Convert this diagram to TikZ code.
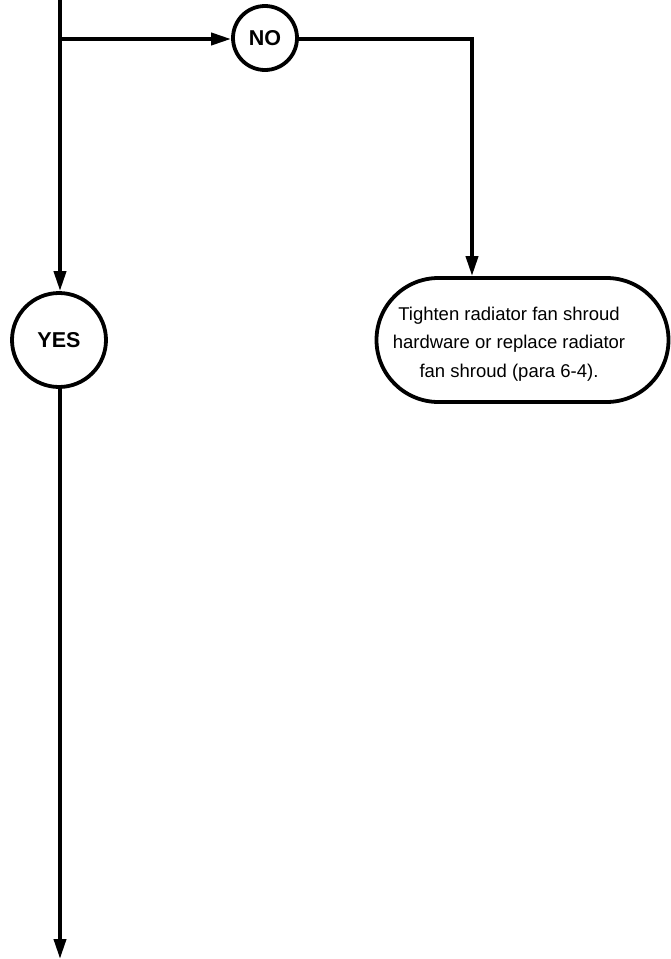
\documentclass[tikz,border=0pt]{standalone}
\usepackage{fontspec}
\setmainfont{Liberation Sans}
\usetikzlibrary{arrows.meta,shapes.misc}
\tikzset{
  conn/.style={line width=3.8pt,-{Triangle[length=20pt,width=12pt]}},
  plain/.style={line width=3.8pt},
  decision/.style={circle,draw,line width=3.8pt,inner sep=0pt,font=\fontsize{21.5}{24}\selectfont\bfseries},
  endbox/.style={rounded rectangle,draw,line width=3.8pt,minimum width=292pt,minimum height=124pt,inner sep=0pt},
  boxtext/.style={align=center,inner sep=0pt,font=\fontsize{18.5}{28.5}\selectfont}
}
\begin{document}
\begin{tikzpicture}[x=1pt,y=-1pt]
\useasboundingbox (0,0) rectangle (671,959);
\coordinate (top) at (60,0);
\coordinate (split) at (60,39);
\coordinate (bottom) at (60,959);
\coordinate (corner) at (472,39);
\node[decision,minimum size=64pt] (no) at (265,38) {NO};
\node[decision,minimum size=94pt] (yes) at (59,340) {YES};
\node[endbox] (fix) at (522.5,340) {};
\node[boxtext] (fixtext) at (509,344) {Tighten radiator fan shroud\\hardware or replace radiator\\fan shroud (para 6-4).};
\draw[plain] (top) -- (split);
\draw[conn] (split) -- (yes.north -| split);
\draw[conn] (split) -- (no.west |- split);
\draw[conn] (no.east |- corner) -- (corner) -- (fix.north -| corner);
\draw[conn] (yes.south -| bottom) -- (bottom);
\end{tikzpicture}
\end{document}
